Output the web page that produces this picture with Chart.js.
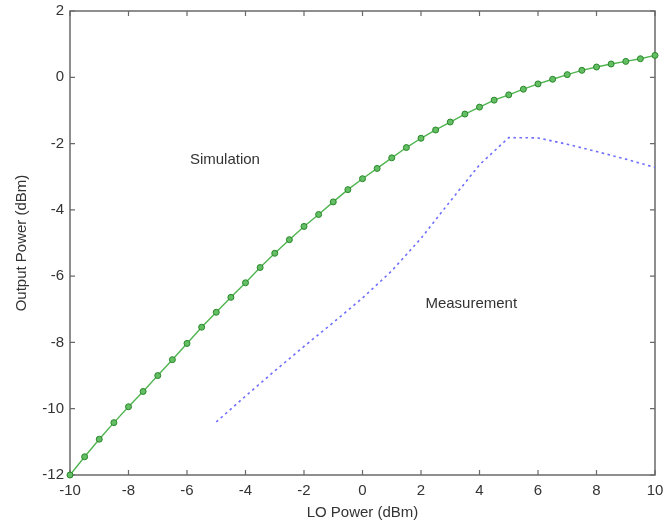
<!DOCTYPE html>
<html>
<head>
<meta charset="utf-8">
<script src="https://cdn.jsdelivr.net/npm/chart.js@4.4.1/dist/chart.umd.min.js"></script>
<style>
  html, body { margin: 0; padding: 0; background: #ffffff; }
  #wrap { width: 665px; height: 528px; }
</style>
</head>
<body>
<div id="wrap"><canvas id="c" width="665" height="528"></canvas></div>
<script>
// Simulated output power, 0.5 dB LO steps
const loPower = [
  -10, -9.5, -9, -8.5, -8, -7.5, -7, -6.5, -6, -5.5,
  -5, -4.5, -4, -3.5, -3, -2.5, -2, -1.5, -1, -0.5,
  0, 0.5, 1, 1.5, 2, 2.5, 3, 3.5, 4, 4.5,
  5, 5.5, 6, 6.5, 7, 7.5, 8, 8.5, 9, 9.5, 10
];
const simulatedOutput = [
  -12.0, -11.45, -10.92, -10.42, -9.94, -9.48, -9.0, -8.52, -8.03, -7.54,
  -7.09, -6.64, -6.20, -5.74, -5.31, -4.90, -4.50, -4.14, -3.76, -3.39,
  -3.06, -2.75, -2.43, -2.12, -1.84, -1.59, -1.35, -1.11, -0.90, -0.69,
  -0.53, -0.36, -0.20, -0.06, 0.08, 0.21, 0.31, 0.40, 0.48, 0.56, 0.66
];

// Measured output power, 1 dB LO steps
const measuredLoPower = [-5, -4, -3, -2, -1, 0, 1, 2, 3, 4, 5, 6, 7, 8, 9, 10];
const measuredOutput = [
  -10.4, -9.62, -8.86, -8.12, -7.4, -6.66,
  -5.84, -4.86, -3.74, -2.64, -1.82,
  -1.83, -2.02, -2.24, -2.47, -2.72
];

const xTickValues = [-10, -8, -6, -4, -2, 0, 2, 4, 6, 8, 10];
const yTickValues = [-12, -10, -8, -6, -4, -2, 0, 2];

const curveLabels = ['Simulation', 'Measurement'];
const curveLabelX = [-5.9, 2.15];
const curveLabelY = [-2.5, -6.85];

const FONT = '"Liberation Sans", Arial, Helvetica, sans-serif';

// Boxed axes with inward tick marks on all four sides
const boxAxes = {
  id: 'boxAxes',
  beforeDatasetsDraw(chart) {
    const { ctx, chartArea: a, scales: { x, y } } = chart;
    const len = 5;
    ctx.save();
    ctx.strokeStyle = 'rgb(105,105,105)';
    ctx.lineWidth = 1.5;
    ctx.strokeRect(a.left, a.top, a.right - a.left, a.bottom - a.top);
    ctx.lineWidth = 1.2;
    ctx.beginPath();
    xTickValues.forEach(v => {
      const px = x.getPixelForValue(v);
      ctx.moveTo(px, a.bottom); ctx.lineTo(px, a.bottom - len);
      ctx.moveTo(px, a.top); ctx.lineTo(px, a.top + len);
    });
    yTickValues.forEach(v => {
      const py = y.getPixelForValue(v);
      ctx.moveTo(a.left, py); ctx.lineTo(a.left + len, py);
      ctx.moveTo(a.right, py); ctx.lineTo(a.right - len, py);
    });
    ctx.stroke();
    ctx.restore();
  },
  afterDraw(chart) {
    const { ctx, scales: { x, y } } = chart;
    ctx.save();
    ctx.fillStyle = '#333333';
    ctx.font = '15px ' + FONT;
    ctx.textAlign = 'left';
    ctx.textBaseline = 'middle';
    curveLabels.forEach((t, i) => {
      ctx.fillText(t, x.getPixelForValue(curveLabelX[i]), y.getPixelForValue(curveLabelY[i]));
    });
    ctx.restore();
  }
};

new Chart(document.getElementById('c'), {
  type: 'scatter',
  data: {
    datasets: [
      {
        label: 'Simulation',
        data: loPower.map((v, i) => ({ x: v, y: simulatedOutput[i] })),
        showLine: true,
        borderColor: 'rgb(80,180,80)',
        borderWidth: 1.4,
        pointRadius: 3,
        pointBackgroundColor: 'rgb(100,190,100)',
        pointBorderColor: 'rgb(40,135,40)',
        pointBorderWidth: 1,
        clip: false,
        order: 1
      },
      {
        label: 'Measurement',
        data: measuredLoPower.map((v, i) => ({ x: v, y: measuredOutput[i] })),
        showLine: true,
        borderColor: 'rgb(110,110,255)',
        borderWidth: 1.6,
        borderDash: [2.5, 3.5],
        pointRadius: 0,
        order: 2
      }
    ]
  },
  options: {
    responsive: false,
    animation: false,
    devicePixelRatio: 1,
    layout: { padding: 0 },
    plugins: { legend: { display: false }, tooltip: { enabled: false } },
    scales: {
      x: {
        type: 'linear',
        min: -10, max: 10,
        afterBuildTicks: s => { s.ticks = xTickValues.map(v => ({ value: v })); },
        afterFit: s => { s.height = 53; s.paddingLeft = 0; s.paddingRight = 10; },
        grid: { display: false, drawTicks: false },
        border: { display: false },
        ticks: { color: '#333333', font: { family: FONT, size: 15 }, padding: 7, maxRotation: 0, autoSkip: false },
        title: { display: true, text: 'LO Power (dBm)', color: '#333333', font: { family: FONT, size: 15 }, padding: { top: 0, bottom: 6 } }
      },
      y: {
        type: 'linear',
        min: -12, max: 2,
        afterBuildTicks: s => { s.ticks = yTickValues.map(v => ({ value: v })); },
        afterFit: s => { s.width = 70; s.paddingTop = 11; s.paddingBottom = 0; },
        grid: { display: false, drawTicks: false },
        border: { display: false },
        ticks: { color: '#333333', font: { family: FONT, size: 15 }, padding: 6, autoSkip: false },
        title: { display: true, text: 'Output Power (dBm)', color: '#333333', font: { family: FONT, size: 15 }, padding: { top: 13, bottom: 0 } }
      }
    }
  },
  plugins: [boxAxes]
});
</script>
</body>
</html>
